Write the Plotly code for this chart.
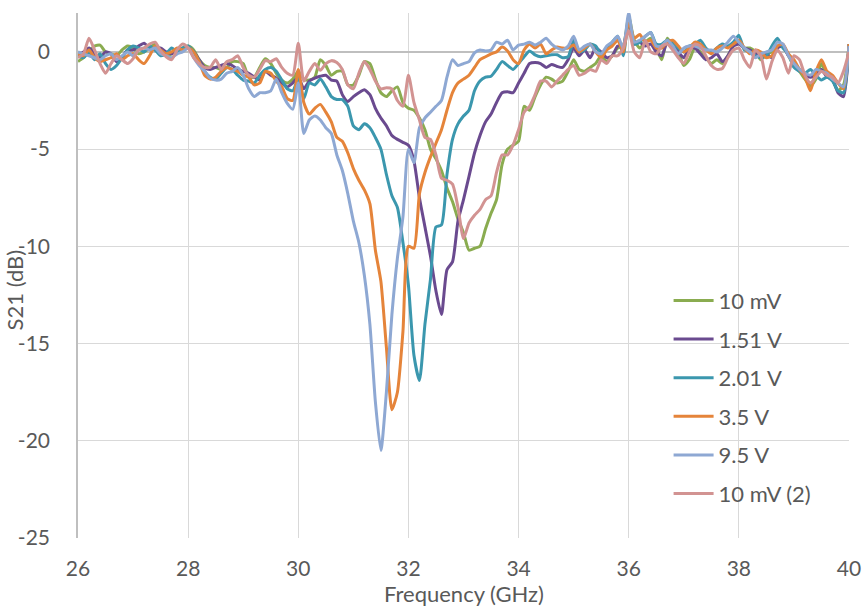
import numpy as np
import plotly.graph_objects as go

freq = [round(26 + 0.1 * k, 1) for k in range(141)]

s_10mV = [
    -0.5, -0.3, 0.0, 0.3, 0.35, 0.0, -0.1, -0.2, 0.1, 0.3,
    0.2, -0.1, 0.0, 0.2, 0.4, 0.1, -0.2, -0.1, 0.1, 0.2,
    0.3, 0.1, -0.4, -0.7, -0.8, -0.8, -0.9, -0.8, -0.5, -0.5,
    -0.6, -1.3, -1.3, -0.8, -0.35, -0.6, -1.1, -1.45, -1.6, -1.4,
    -1.0, -1.4, -1.45, -1.3, -0.4, -0.7, -1.2, -1.0, -1.0, -1.7,
    -1.7, -1.2, -0.5, -0.6, -1.4, -2.1, -2.3, -2.0, -1.8, -2.6,
    -2.9, -3.0, -3.4, -4.0, -5.0, -5.5, -6.1, -7.0, -7.7, -8.6,
    -9.3, -10.2, -10.1, -10.0, -9.1, -8.3, -7.6, -5.8, -5.0, -4.8,
    -4.6, -2.8, -3.0, -2.3, -1.7, -1.3, -1.4, -1.6, -1.5, -1.0,
    -0.4, -0.9, -1.0, -0.8, -0.6, -0.2, -0.5, -0.2, 0.2, 0.3,
    1.8, 0.6, 0.2, 0.5, 0.7, 0.2, -0.4, 0.7, 0.3, 0.0,
    -0.7, -0.4, 0.2, 0.0, -0.3, -0.6, -0.4, -0.6, -0.2, 0.3,
    0.6, 0.2, 0.2, 0.0, -0.4, -0.1, 0.0, 0.3, 0.3, -0.2,
    -0.7, -1.0, -1.4, -1.75, -1.4, -0.6, -1.2, -1.45, -2.0, -1.7,
    0.3,
]

s_151V = [
    -0.2, 0.0, 0.2, -0.1, -0.3, 0.0, -0.1, -0.5, -0.3, 0.1,
    0.1, 0.3, 0.45, 0.2, 0.1, 0.2, 0.0, -0.1, 0.1, 0.1,
    0.2, 0.0, -0.4, -0.8, -0.9, -0.8, -0.7, -0.6, -0.7, -0.9,
    -1.0, -1.1, -1.3, -1.45, -1.0, -1.2, -1.35, -1.6, -1.8, -1.6,
    -1.3, -1.9, -1.5, -1.35, -1.25, -1.2, -1.45, -1.5, -2.2, -2.55,
    -2.3, -2.1, -1.95, -2.2, -2.9, -3.4, -3.8, -4.3, -4.5, -4.65,
    -4.8, -5.6, -7.5, -9.0, -10.5, -12.3, -13.5, -11.2, -10.8, -8.7,
    -7.6, -6.4, -5.2, -4.3, -3.6, -3.2, -2.6, -2.1, -2.05, -2.1,
    -1.6, -1.1, -0.6, -0.55, -0.6, -0.8, -0.65, -0.75, -0.8, -0.4,
    0.2, -0.2, 0.1, -0.3, 0.2, 0.0, -0.3, -0.2, 0.3, 0.3,
    1.6, 0.4, 0.5, 0.3, 0.4, 0.0, -0.2, 0.5, 0.3, 0.0,
    -0.3, 0.2, 0.2, -0.1, -0.4, -0.3, -0.1, -0.5, -0.2, 0.3,
    0.4, 0.2, 0.1, -0.1, -0.3, -0.1, -0.3, 0.2, 0.3, -0.2,
    -0.5, -0.9, -1.2, -1.3, -1.2, -0.9, -1.3, -1.4, -2.1, -2.3,
    0.4,
]

s_201V = [
    -0.2, -0.3, 0.0, -0.4, -0.1, -0.6, -0.9, -0.7, -0.3, 0.1,
    0.3, 0.2, 0.0, 0.3, 0.1, -0.2, -0.1, 0.2, 0.0, 0.2,
    0.3, 0.0, -0.5, -1.0, -1.3, -1.4, -1.1, -0.8, -0.9, -1.2,
    -1.45, -1.5, -1.6, -1.2, -0.9, -0.8, -1.0, -1.45, -1.9, -2.0,
    -1.4, -2.4, -1.6, -1.7, -1.4, -1.8, -2.3, -2.45, -2.45, -2.8,
    -3.8, -4.0, -3.7, -3.9, -4.4, -5.0, -6.3, -7.4, -8.0, -9.8,
    -12.0, -15.6, -16.9, -14.0, -11.7, -9.0, -8.9, -6.3, -4.5, -3.7,
    -3.3, -3.0, -2.0, -1.5, -1.3, -1.25, -0.9, -0.5, -0.7, -0.9,
    -0.6, -0.25, 0.05, -0.15, -0.25, -0.2, -0.15, -0.15, -0.3, -0.25,
    0.6, 0.0, 0.1, 0.4, 0.3, -0.1, 0.2, 0.5, 0.8, -0.2,
    1.7, 0.4, 0.5, 0.8, 1.0, 0.4, 0.4, 0.6, 0.5, 0.2,
    0.0, 0.3, 0.4, 0.6, 0.2, 0.0, 0.2, 0.4, 0.3, 0.5,
    0.85, 0.1, 0.0, -0.2, -0.3, -0.2, 0.3, 0.7, 0.2, -0.1,
    -0.8, -1.0, -1.1, -0.9, -1.2, -1.45, -1.3, -1.5, -2.0, -2.1,
    0.4,
]

s_35V = [
    -0.1, -0.2, 0.1, -0.3, -0.5, -0.4, -0.3, -0.1, -0.4, -0.2,
    -0.1, -0.4, -0.6, -0.2, 0.3, 0.1, -0.1, 0.0, 0.2, 0.1,
    0.2, 0.0, -0.5, -1.2, -1.4, -1.3, -1.0, -0.8, -0.9, -1.0,
    -1.2, -1.3, -1.7, -1.6, -1.0, -1.1, -1.5, -1.8, -2.4, -2.5,
    -0.9, -2.6, -3.2, -2.9, -2.7, -3.1, -3.6, -4.4, -4.6, -5.2,
    -6.0, -6.6, -7.1, -7.8, -10.2, -11.8, -15.2, -18.4, -17.5, -14.4,
    -10.0, -10.1, -7.3, -6.2, -5.4, -4.7, -4.0, -3.0, -2.1, -1.6,
    -1.4, -1.2, -0.8, -0.4, -0.25, -0.1, 0.0, 0.25, 0.05, -0.4,
    -0.6, 0.1, 0.4, 0.2, 0.4, -0.1, 0.1, 0.25, 0.2, 0.2,
    0.35, 0.0, 0.2, 0.4, 0.0, -0.3, 0.1, 0.3, 0.6, 0.0,
    1.6, 0.7, 0.9, 0.5, 0.6, 0.2, 0.2, 0.5, 0.6, 0.3,
    0.0, 0.2, 0.5, 0.4, 0.1, -0.1, 0.2, 0.3, 0.2, 0.4,
    0.6, 0.2, -0.1, 0.1, 0.0, -0.3, -0.2, 0.3, 0.4, -0.1,
    -0.4, -0.9, -1.3, -2.0, -1.0, -0.4, -1.0, -1.2, -1.6, -1.9,
    0.4,
]

s_95V = [
    0.0, -0.1, -0.2, -0.3, -0.4, -0.2, -0.1, -0.4, -0.2, 0.0,
    -0.2, 0.1, 0.2, 0.1, 0.2, -0.1, -0.2, -0.3, -0.1, 0.0,
    0.2, -0.3, -0.7, -1.0, -1.35, -1.45, -1.4, -1.1, -1.0, -0.8,
    -1.2, -1.9, -2.3, -2.1, -2.1, -2.0, -1.4, -2.1, -2.65, -2.95,
    -1.6, -4.2, -3.5, -3.3, -3.5, -3.9, -4.2, -5.3, -6.1, -7.3,
    -8.7, -9.8, -11.5, -14.0, -18.0, -20.5, -17.5, -13.5, -10.6, -8.5,
    -5.0, -5.7, -3.9, -3.4, -3.1, -2.8, -2.5, -1.3, -0.4, -0.7,
    -0.6, -0.5, -0.05, 0.1, 0.05, 0.1, 0.5, 0.4, 0.6, 0.1,
    0.35, 0.4, 0.5, 0.35, 0.5, 0.7, 0.4, 0.2, 0.1, 0.3,
    0.8, 0.1, 0.3, 0.4, 0.0, -0.1, 0.3, 0.5, 0.8, 0.2,
    2.0, 0.5, 0.6, 0.8, 1.0, 0.3, 0.3, 0.6, 0.3, -0.1,
    0.2, 0.3, 0.3, 0.2, 0.1, 0.1, 0.0, 0.2, 0.5, 0.8,
    0.5, 0.2, 0.0, -0.3, -0.1, 0.0, 0.1, 0.5, 0.4, -0.2,
    -0.6, -0.9, -1.1, -1.2, -0.9, -1.0, -1.1, -1.4, -1.6, -1.8,
    0.3,
]

s_10mV_2 = [
    -0.3, -0.1, 0.7, 0.1, -0.6, -1.1, -0.6, -0.2, -0.4, -0.6,
    -0.35, 0.1, 0.2, 0.4, 0.5, 0.05, -0.25, -0.4, 0.1, 0.4,
    0.2, -0.3, -0.6, -0.8, -0.8, -0.4, -0.9, -0.5, -0.4, -0.2,
    -0.8, -1.2, -1.3, -0.9, -0.45, -0.5, -0.35, -0.8, -1.1, -1.2,
    0.45, -1.5, -1.0, -0.6, -0.95, -0.6, -0.45, -0.55, -0.9, -1.7,
    -1.9, -1.1, -0.5, -0.9, -1.5, -1.9, -1.85, -1.9, -2.5, -2.8,
    -1.2, -2.6, -3.5, -4.4, -4.5, -5.3, -6.5, -6.6, -6.8, -8.0,
    -9.6, -8.8, -8.4, -8.1, -7.6, -7.4, -6.2, -5.3, -5.3, -4.8,
    -4.0, -3.1, -2.8, -2.2, -1.5, -1.5, -1.8, -1.5, -1.2, -0.9,
    -0.7, -1.2, -1.1, -0.9, -1.0, -0.4, -0.6, -0.2, -0.2, 0.2,
    1.1, 0.0, -0.3, 0.6, 0.0, -0.1, 0.3, 0.4, 0.1, -0.3,
    -0.6, 0.0, 0.4, 0.3, -0.2, -0.7, -0.9, -0.85, -0.3, 0.1,
    0.2, -0.4, -0.8, 0.1, -0.2, -1.4, -0.5, 0.1, -0.3, -1.1,
    -0.2, -0.4, -1.2, -1.6, -1.3, -1.0, -1.2, -1.3, -1.6, -1.0,
    0.0,
]

series_names = ["10 mV", "1.51 V", "2.01 V", "3.5 V", "9.5 V", "10 mV (2)"]
series_values = [s_10mV, s_151V, s_201V, s_35V, s_95V, s_10mV_2]
colors = ["#8aac50", "#6a4a8f", "#3b97ae", "#e5843a", "#8ea8d3", "#d29392"]

x_ticks = [26, 28, 30, 32, 34, 36, 38, 40]
y_ticks = [-25, -20, -15, -10, -5, 0]

fig = go.Figure()
for i, (name, vals, col) in enumerate(zip(series_names, series_values, colors)):
    fig.add_trace(go.Scatter(
        x=freq, y=vals, mode="lines", name=name,
        line=dict(color=col, width=3, shape="spline", smoothing=0.6),
        legendgroup="g%d" % i,
    ))

font_col = "#595959"
fig.update_layout(
    width=863, height=608,
    margin=dict(l=78, r=14, t=13, b=70, autoexpand=False),
    paper_bgcolor="white", plot_bgcolor="white",
    font=dict(family="Lato, Open Sans, sans-serif", color=font_col, size=21),
    showlegend=True,
    legend=dict(
        x=0.766, y=0.492, xanchor="left", yanchor="top",
        bgcolor="rgba(0,0,0,0)", font=dict(size=22, color=font_col),
        tracegroupgap=7, itemwidth=40,
    ),
    xaxis=dict(
        range=[26, 40], tickvals=x_ticks, ticktext=[str(v) for v in x_ticks],
        showgrid=True, gridcolor="#d9d9d9", gridwidth=1.3,
        zeroline=False, showline=False, ticks="", automargin=False,
        ticklabelstandoff=16,
        tickfont=dict(size=21, color=font_col),
    ),
    yaxis=dict(
        range=[-25, 2], tickvals=y_ticks, ticktext=[str(v) for v in y_ticks],
        showgrid=True, gridcolor="#d9d9d9", gridwidth=1.3,
        zeroline=True, zerolinecolor="#bfbfbf", zerolinewidth=1.6,
        showline=True, linecolor="#bfbfbf", linewidth=1.6, ticks="",
        automargin=False, ticklabelstandoff=22,
        tickfont=dict(size=21, color=font_col),
    ),
    annotations=[
        dict(
            text="S21 (dB)", textangle=-90, xref="paper", yref="paper",
            x=-0.082, y=0.473, xanchor="center", yanchor="middle", showarrow=False,
            font=dict(size=22, color=font_col),
        ),
        dict(
            text="Frequency (GHz)", xref="paper", yref="paper",
            x=0.5, y=-0.106, xanchor="center", yanchor="middle", showarrow=False,
            font=dict(size=22, color=font_col),
        ),
    ],
)

fig.write_html(
    "out.html",
    config={"displayModeBar": False},
    post_script="document.body.style.margin='0';document.body.style.overflow='hidden';",
)
